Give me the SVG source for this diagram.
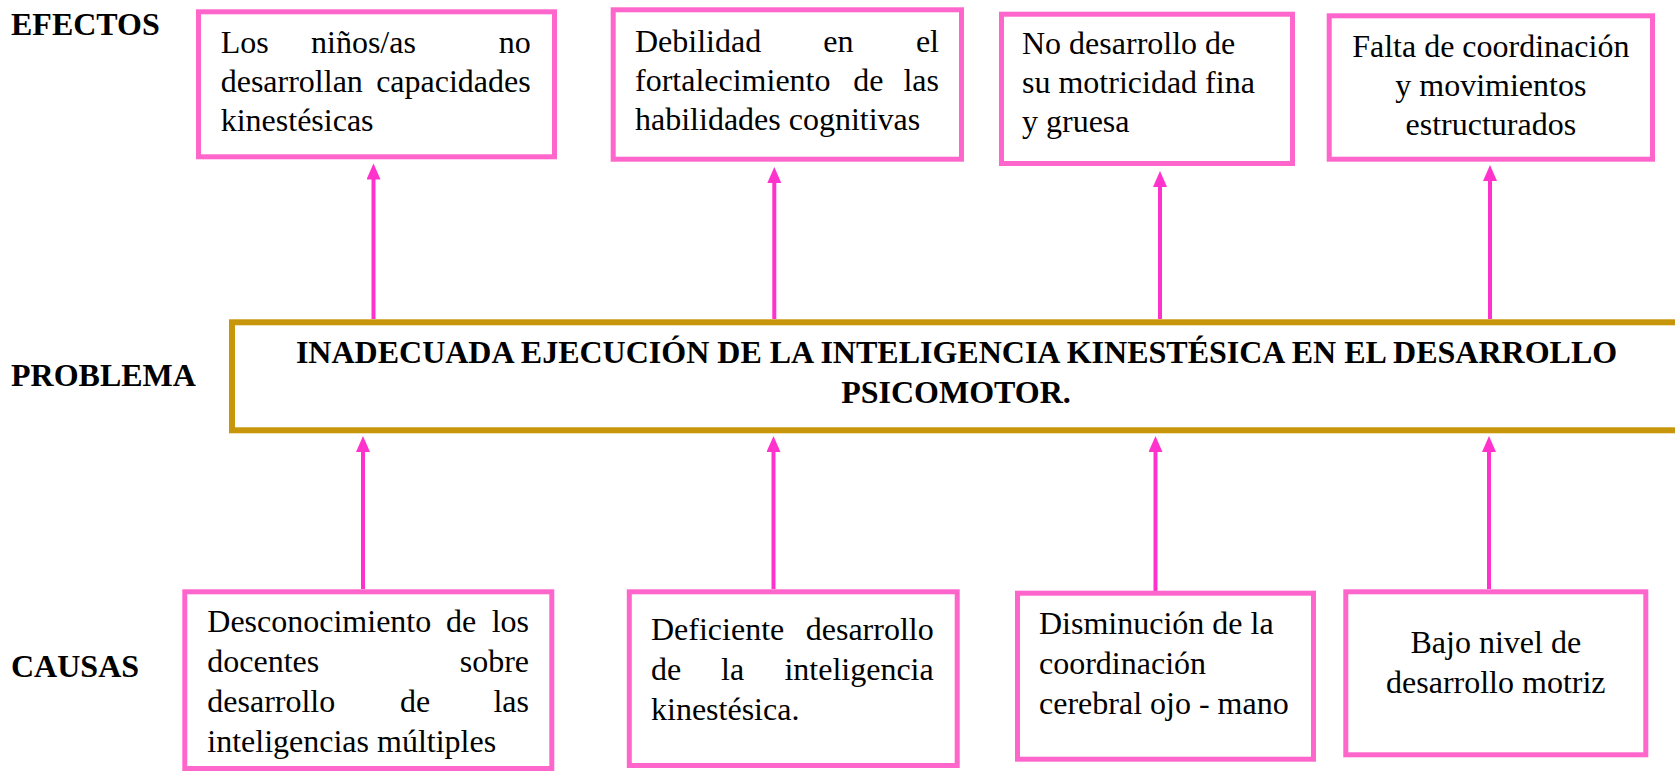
<svg xmlns="http://www.w3.org/2000/svg" width="1675" height="771" viewBox="0 0 1675 771">
<style>
  .bx { fill: #FFFFFF; stroke: #FF66CC; stroke-width: 5; }
  .pb { fill: #FFFFFF; stroke: #C8960A; stroke-width: 6; }
  .t { font-family: "Liberation Serif", "Times New Roman", serif; font-size: 32px; fill: #000000; }
  .b { font-family: "Liberation Serif", "Times New Roman", serif; font-size: 32px; font-weight: bold; fill: #000000; }
  .c { text-anchor: middle; }
  .e { text-anchor: end; }
  .ar { stroke: #FF33CC; stroke-width: 4; fill: none; marker-end: url(#ah); }
</style>
<defs>
  <marker id="ah" markerUnits="userSpaceOnUse" markerWidth="17" markerHeight="14" refX="1" refY="7" orient="auto">
    <path d="M0,0 L16,7 L0,14 Z" fill="#FF33CC"/>
  </marker>
</defs>
<rect width="1675" height="771" fill="#FFFFFF"/>

<g id="labels">
  <text class="b" x="11" y="35">EFECTOS</text>
  <text class="b" x="11" y="386">PROBLEMA</text>
  <text class="b" x="11" y="677">CAUSAS</text>
</g>

<g id="connectors">
  <line class="ar" x1="373.5" y1="319" x2="373.5" y2="178.5"/>
  <line class="ar" x1="774.3" y1="319" x2="774.3" y2="182"/>
  <line class="ar" x1="1160" y1="319" x2="1160" y2="186"/>
  <line class="ar" x1="1490" y1="319" x2="1490" y2="180"/>
  <line class="ar" x1="363" y1="589" x2="363" y2="451"/>
  <line class="ar" x1="773.5" y1="589" x2="773.5" y2="451"/>
  <line class="ar" x1="1155.5" y1="591" x2="1155.5" y2="451"/>
  <line class="ar" x1="1489" y1="589" x2="1489" y2="451"/>
</g>

<g id="efecto1">
  <rect class="bx" x="198.5" y="11.8" width="356" height="145"/>
  <text class="t" x="220.7" y="53.3">Los</text>
  <text class="t" x="311" y="53.3">niños/as</text>
  <text class="t e" x="530.7" y="53.3">no</text>
  <text class="t" x="220.7" y="92.3">desarrollan</text>
  <text class="t e" x="530.7" y="92.3">capacidades</text>
  <text class="t" x="220.7" y="131">kinestésicas</text>
</g>

<g id="efecto2">
  <rect class="bx" x="613.2" y="9.8" width="348.3" height="149.4"/>
  <text class="t" x="635" y="51.7">Debilidad</text>
  <text class="t" x="823.3" y="51.7">en</text>
  <text class="t e" x="939" y="51.7">el</text>
  <text class="t" x="635" y="90.7">fortalecimiento</text>
  <text class="t" x="853.3" y="90.7">de</text>
  <text class="t e" x="939" y="90.7">las</text>
  <text class="t" x="635" y="130">habilidades cognitivas</text>
</g>

<g id="efecto3">
  <rect class="bx" x="1001.5" y="14.2" width="291" height="149.3"/>
  <text class="t" x="1022" y="54">No desarrollo de</text>
  <text class="t" x="1022" y="93">su motricidad fina</text>
  <text class="t" x="1022" y="132">y gruesa</text>
</g>

<g id="efecto4">
  <rect class="bx" x="1329.2" y="15.8" width="323.3" height="143.4"/>
  <text class="t c" x="1490.8" y="56.7">Falta de coordinación</text>
  <text class="t c" x="1490.8" y="95.7">y movimientos</text>
  <text class="t c" x="1490.8" y="135">estructurados</text>
</g>

<g id="problema">
  <rect class="pb" x="232" y="322.3" width="1450" height="108"/>
  <text class="b c" x="956.5" y="363.3">INADECUADA EJECUCIÓN DE LA INTELIGENCIA KINESTÉSICA EN EL DESARROLLO</text>
  <text class="b c" x="956" y="403.3">PSICOMOTOR.</text>
</g>

<g id="causa1">
  <rect class="bx" x="184.8" y="591.8" width="367" height="176.7"/>
  <text class="t" x="207.3" y="631.7">Desconocimiento</text>
  <text class="t" x="446" y="631.7">de</text>
  <text class="t e" x="529" y="631.7">los</text>
  <text class="t" x="207.3" y="671.7">docentes</text>
  <text class="t e" x="529" y="671.7">sobre</text>
  <text class="t" x="207.3" y="711.7">desarrollo</text>
  <text class="t" x="400" y="711.7">de</text>
  <text class="t e" x="529" y="711.7">las</text>
  <text class="t" x="207.3" y="751.7">inteligencias múltiples</text>
</g>

<g id="causa2">
  <rect class="bx" x="629.3" y="591.8" width="327.9" height="173.7"/>
  <text class="t" x="651" y="640">Deficiente</text>
  <text class="t e" x="933.7" y="640">desarrollo</text>
  <text class="t" x="651" y="680">de</text>
  <text class="t" x="721" y="680">la</text>
  <text class="t e" x="933.7" y="680">inteligencia</text>
  <text class="t" x="651" y="720">kinestésica.</text>
</g>

<g id="causa3">
  <rect class="bx" x="1017.5" y="593.2" width="296" height="166"/>
  <text class="t" x="1039" y="634">Disminución de la</text>
  <text class="t" x="1039" y="674">coordinación</text>
  <text class="t" x="1039" y="714">cerebral ojo - mano</text>
</g>

<g id="causa4">
  <rect class="bx" x="1345.8" y="591.8" width="300" height="163"/>
  <text class="t c" x="1495.8" y="652.7">Bajo nivel de</text>
  <text class="t c" x="1495.8" y="692.7">desarrollo motriz</text>
</g>
</svg>
